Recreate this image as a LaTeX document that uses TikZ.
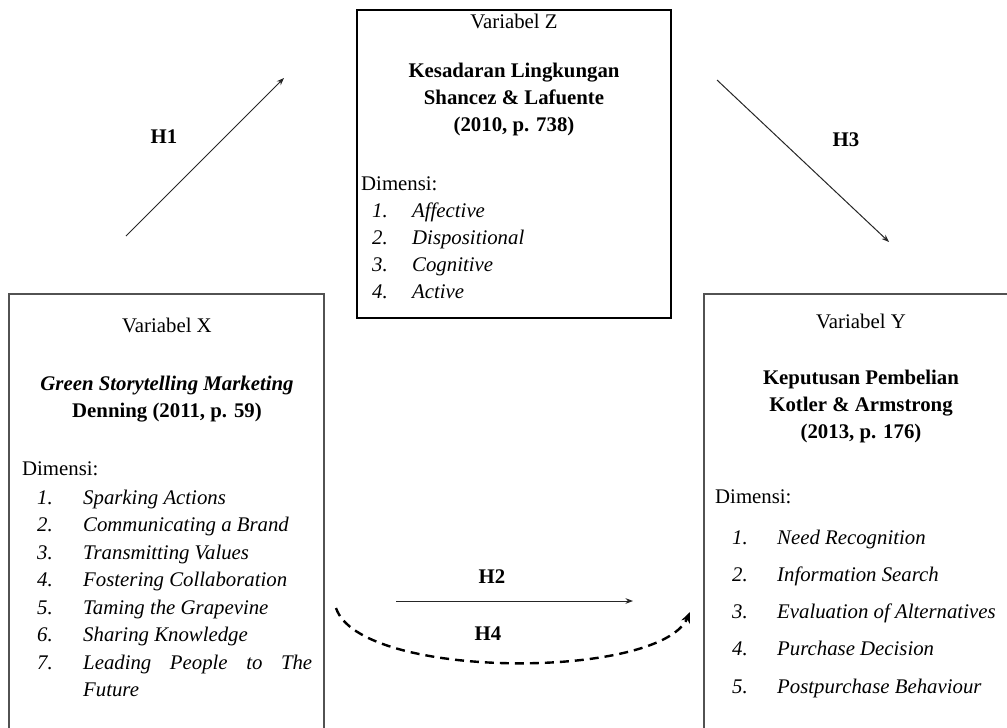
\documentclass[tikz,border=0pt]{standalone}
\usepackage{fontspec}
\setmainfont{Liberation Serif}
\usetikzlibrary{arrows.meta}

\begin{document}
\begin{tikzpicture}[x=1pt,y=-1pt,>=Stealth,
  txt/.style={inner sep=0pt,font=\fontsize{20.8}{25}\selectfont},
  head/.style={txt,anchor=base},
  title/.style={txt,anchor=base,font=\fontsize{20.8}{25}\selectfont\bfseries},
  dim/.style={txt,anchor=base west},
  num/.style={txt,anchor=base west,font=\fontsize{20.8}{25}\selectfont\itshape},
  hyp/.style={txt,font=\fontsize{20.8}{25}\selectfont\bfseries},
  frame/.style={line width=1.6pt,draw=black!68},
  link/.style={->,line width=1pt,draw=black!85}]
\useasboundingbox (0,0) rectangle (1007,728);
\clip (0,0) rectangle (1007,728);
% ---------- kotak ----------
\draw[frame] (9,760) -- (9,294) -- (324,294) -- (324,760);
\draw[line width=1.6pt] (357,10) rectangle (671,318);
\draw[frame] (704,760) -- (704,294) -- (1020,294) -- (1020,760);
% ---------- Variabel X ----------
\node[head]  (xhead) at (167,332) {Variabel X};
\node[title] (xname) at (167,390) {\itshape Green Storytelling Marketing};
\node[title] (xref)  at (167,417) {Denning (2011, p. 59)};
\node[dim]   (xdim)  at (22,475) {Dimensi:};
\foreach \n/\t [count=\k from 0] in {1/Sparking Actions,2/Communicating a Brand,
    3/Transmitting Values,4/Fostering Collaboration,5/Taming the Grapevine,
    6/Sharing Knowledge}{
  \node[num] (xn\n) at (37,504+27.5*\k) {\n.};
  \node[num] (xi\n) at (83,504+27.5*\k) {\t};
}
\node[num] (xn7) at (37,669) {7.};
\node[num] (xi7) at (83,669) {\hbox to 229pt{Leading\hfill People\hfill to\hfill The}};
\node[num] (xi8) at (83,696.5) {Future};
% ---------- Variabel Z ----------
\node[head]  (zhead) at (514,28) {Variabel Z};
\node[title] (zname) at (514,77) {Kesadaran Lingkungan};
\node[title] (zauth) at (514,104) {Shancez \& Lafuente};
\node[title] (zref)  at (514,131) {(2010, p. 738)};
\node[dim]   (zdim)  at (361,190) {Dimensi:};
\foreach \n/\t [count=\k from 0] in {1/Affective,2/Dispositional,3/Cognitive,4/Active}{
  \node[num] (zn\n) at (372,217+27*\k) {\n.};
  \node[num] (zi\n) at (412,217+27*\k) {\t};
}
% ---------- Variabel Y ----------
\node[head]  (yhead) at (861,328) {Variabel Y};
\node[title] (yname) at (861,384) {Keputusan Pembelian};
\node[title] (yauth) at (861,411) {Kotler \& Armstrong};
\node[title] (yref)  at (861,438) {(2013, p. 176)};
\node[dim]   (ydim)  at (715,503) {Dimensi:};
\foreach \n/\t [count=\k from 0] in {1/Need Recognition,2/Information Search,
    3/Evaluation of Alternatives,4/Purchase Decision,5/Postpurchase Behaviour}{
  \node[num] (yn\n) at (732,544+37.3*\k) {\n.};
  \node[num] (yi\n) at (777,544+37.3*\k) {\t};
}
% ---------- hipotesis ----------
\coordinate (h1a) at (126,236);
\coordinate (h1b) at (284,78);
\draw[link] (h1a) -- (h1b);
\node[hyp] (h1) at (164,137) {H1};
\coordinate (h3a) at (717,80);
\coordinate (h3b) at (889,242);
\draw[link] (h3a) -- (h3b);
\node[hyp] (h3) at (846,140) {H3};
\coordinate (h2a) at (396,601);
\coordinate (h2b) at (633,601);
\draw[link] (h2a) -- (h2b);
\node[hyp] (h2) at (492,577) {H2};
\coordinate (h4a) at (336,608);
\coordinate (h4b) at (690,612);
\draw[->,line width=2.4pt,dash pattern=on 9pt off 6pt,>={Stealth[length=11pt,width=9pt]}]
  (h4a) .. controls (360,680) and (660,680) .. (h4b);
\node[hyp] (h4) at (488,634) {H4};
\end{tikzpicture}
\end{document}
